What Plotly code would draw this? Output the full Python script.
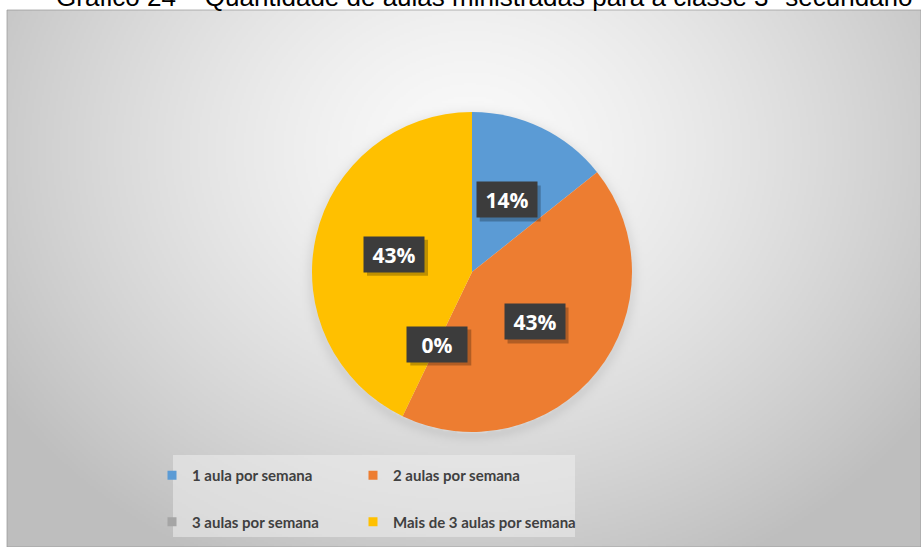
import base64
import math
import struct
import zlib

import numpy as np
import plotly.graph_objects as go

# Survey answers: number of classes per week (respondent counts)
categories = ["1 aula por semana", "2 aulas por semana", "3 aulas por semana", "Mais de 3 aulas por semana"]
counts = [1, 3, 0, 3]
colors = ["#5B9BD5", "#ED7D31", "#A5A5A5", "#FFC000"]
title_text = "Gráfico 24 – Quantidade de aulas ministradas para a classe 3ª secundário"

W, H = 921, 547
# chart-area frame (pixels)
FX0, FY0, FX1, FY1 = 7, 10, 921, 547
# pie centre and radius (pixels)
CX, CY, R = 472, 272, 160
# data-label box size (pixels)
BW, BH = 60, 35


def png_data_uri(arr):
    h, w, _ = arr.shape
    raw = b"".join(b"\x00" + arr[i].tobytes() for i in range(h))

    def chunk(tag, data):
        c = struct.pack(">I", len(data)) + tag + data
        return c + struct.pack(">I", zlib.crc32(tag + data) & 0xFFFFFFFF)

    png = (b"\x89PNG\r\n\x1a\n"
           + chunk(b"IHDR", struct.pack(">IIBBBBB", w, h, 8, 2, 0, 0, 0))
           + chunk(b"IDAT", zlib.compress(raw, 9))
           + chunk(b"IEND", b""))
    return "data:image/png;base64," + base64.b64encode(png).decode()


# radial grey gradient for the chart area, with a soft shadow round the pie
gw, gh = (FX1 - FX0) // 2, (FY1 - FY0) // 2
xs = np.linspace(FX0, FX1, gw)
ys = np.linspace(FY0, FY1, gh)
X, Y = np.meshgrid(xs, ys)
t = np.sqrt(((X - 470) / 560.0) ** 2 + ((Y - 150) / 470.0) ** 2)
shade = 250 - 60 * np.clip(t, 0, 1) ** 1.4
d = np.sqrt((X - CX) ** 2 + (Y - CY - 3) ** 2)
shade -= 14 * np.exp(-((np.maximum(d - R, 0)) / 7.0) ** 2) * (d > R - 2)
g = np.clip(shade, 0, 255).astype(np.uint8)
bg = np.dstack([g, g, g])
bg_uri = png_data_uri(bg)

total = sum(counts)
pcts = [round(c / total * 100) for c in counts]

fig = go.Figure()

fig.add_trace(go.Pie(
    labels=categories,
    values=counts,
    marker=dict(colors=colors, line=dict(width=0)),
    sort=False,
    direction="clockwise",
    rotation=0,
    textinfo="none",
    hoverinfo="label+percent",
    showlegend=False,
    domain=dict(x=[(CX - R) / W, (CX + R) / W], y=[1 - (CY + R) / H, 1 - (CY - R) / H]),
))

# legend entries: two columns, two rows
legend_of = ["legend", "legend2", "legend", "legend2"]
for i, (name, col) in enumerate(zip(categories, colors)):
    fig.add_trace(go.Scatter(
        x=[None], y=[None], mode="markers", name=name,
        marker=dict(symbol="square", size=9, color=col),
        legend=legend_of[i], legendgroup=f"g{i}", showlegend=True,
    ))

# data labels in dark boxes at the middle of each slice, each with a drop shadow
annotations = []
shapes = []
cum = 0.0
for c, p in zip(counts, pcts):
    mid = (cum + c / 2) / total * 2 * math.pi
    cum += c
    px = (CX + 0.5 * R * math.sin(mid)) / W
    py = 1 - (CY - 0.5 * R * math.cos(mid)) / H
    shapes.append(dict(
        type="rect", xref="paper", yref="paper", xsizemode="pixel", ysizemode="pixel",
        xanchor=px, yanchor=py,
        x0=-BW / 2 + 3, x1=BW / 2 + 4, y0=-BH / 2 - 4, y1=BH / 2 - 3,
        fillcolor="rgba(0,0,0,0.25)", line=dict(width=0), layer="above",
    ))
    annotations.append(dict(
        x=px, y=py, xref="paper", yref="paper",
        text=f"<b>{p}%</b>", showarrow=False,
        font=dict(family="Open Sans", size=21, color="white"),
        bgcolor="#3C3C3C", width=BW, height=BH, borderpad=0,
    ))

annotations.append(dict(
    x=484 / W, y=1, xref="paper", yref="paper", xanchor="center", yanchor="middle",
    yshift=3,
    text=title_text, showarrow=False,
    font=dict(family="Liberation Sans, Arial", size=26, color="#000000"),
))

legend_common = dict(
    orientation="v", xanchor="left", yanchor="top",
    bgcolor="rgba(0,0,0,0)", tracegroupgap=24,
    font=dict(family="Lato", size=15, color="#404040", weight="bold"),
    itemsizing="trace",
)

shapes = [
    dict(type="rect", xref="paper", yref="paper",
         x0=FX0 / W, x1=FX1 / W, y0=1 - FY1 / H, y1=1 - FY0 / H,
         line=dict(color="rgba(150,150,150,0.7)", width=1), layer="below"),
    dict(type="rect", xref="paper", yref="paper",
         x0=173 / W, x1=575 / W, y0=1 - 537 / H, y1=1 - 455 / H,
         fillcolor="rgba(238,238,238,0.55)", line=dict(width=0), layer="below"),
] + shapes

fig.update_layout(
    width=W, height=H,
    margin=dict(l=0, r=0, t=0, b=0),
    paper_bgcolor="white",
    plot_bgcolor="rgba(0,0,0,0)",
    xaxis=dict(visible=False),
    yaxis=dict(visible=False),
    annotations=annotations,
    shapes=shapes,
    images=[dict(
        source=bg_uri, xref="paper", yref="paper",
        x=FX0 / W, y=1 - FY0 / H, sizex=(FX1 - FX0) / W, sizey=(FY1 - FY0) / H,
        xanchor="left", yanchor="top", sizing="stretch", layer="below",
    )],
    legend=dict(x=152 / W, y=1 - 459 / H, **legend_common),
    legend2=dict(x=353 / W, y=1 - 459 / H, **legend_common),
    showlegend=True,
)

fig.write_html("out.html")
